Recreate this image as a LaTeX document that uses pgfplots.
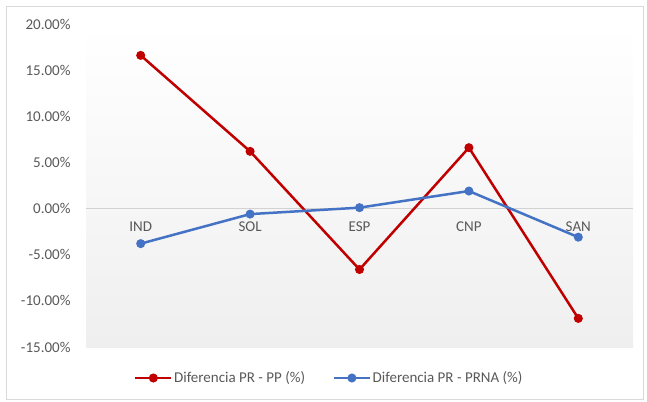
\documentclass[border=0pt]{standalone}
\usepackage{fontspec}
\setmainfont{Carlito}
\usepackage{pgfplots}
\pgfplotsset{compat=1.18}
\definecolor{myred}{HTML}{C00000}
\definecolor{myblue}{HTML}{4472C4}
\definecolor{txt}{HTML}{595959}
\definecolor{bggray}{HTML}{EFEFEF}
\definecolor{brd}{HTML}{D9D9D9}
\begin{document}
\begin{tikzpicture}[x=1bp,y=1bp]
\path[use as bounding box] (0,0) rectangle (647,401);
\draw[brd, line width=1bp] (6,2) rectangle (643,394);
\begin{axis}[
 at={(86bp,54bp)}, anchor=south west,
 scale only axis, width=547bp, height=323bp,
 xmin=-0.5, xmax=4.5, ymin=-15, ymax=20,
 axis x line=middle, axis y line=left,
 x axis line style={-, draw=gray!35, line width=0.8bp},
 y axis line style={draw=none},
 xtick={0,...,4}, xticklabels={IND,SOL,ESP,CNP,SAN},
 ytick={-15,-10,...,20},
 yticklabels={-15.00\%,-10.00\%,-5.00\%,0.00\%,5.00\%,10.00\%,15.00\%,20.00\%},
 major tick length=0,
 tick label style={font=\fontsize{15bp}{17bp}\selectfont, text=txt},
 xticklabel style={yshift=-10bp},
 yticklabel style={xshift=-12bp},
 axis background/.style={shade, top color=white, bottom color=bggray},
 legend style={at={(0.4443,-0.096)}, anchor=center, draw=none, fill=none,
   font=\fontsize{15bp}{17bp}\selectfont, text=txt,
   nodes={inner xsep=1.5bp},
   /tikz/every even column/.append style={column sep=26bp}},
 legend columns=2, legend cell align=left,
 legend image code/.code={\draw[mark repeat=2,mark phase=2,#1] plot coordinates {(0bp,0bp) (18bp,0bp) (36bp,0bp)};},
 clip=false,
]
\addplot[myred, line width=2.5bp, mark=*, mark size=3.2bp, mark options={solid, fill=myred}]
 coordinates {(0,16.6) (1,6.2) (2,-6.6) (3,6.6) (4,-11.9)};
\addlegendentry{Diferencia PR - PP (\%)}
\addplot[myblue, line width=2.5bp, mark=*, mark size=3.2bp, mark options={solid, fill=myblue}]
 coordinates {(0,-3.8) (1,-0.6) (2,0.1) (3,1.9) (4,-3.1)};
\addlegendentry{Diferencia PR - PRNA (\%)}
\end{axis}
\end{tikzpicture}
\end{document}
